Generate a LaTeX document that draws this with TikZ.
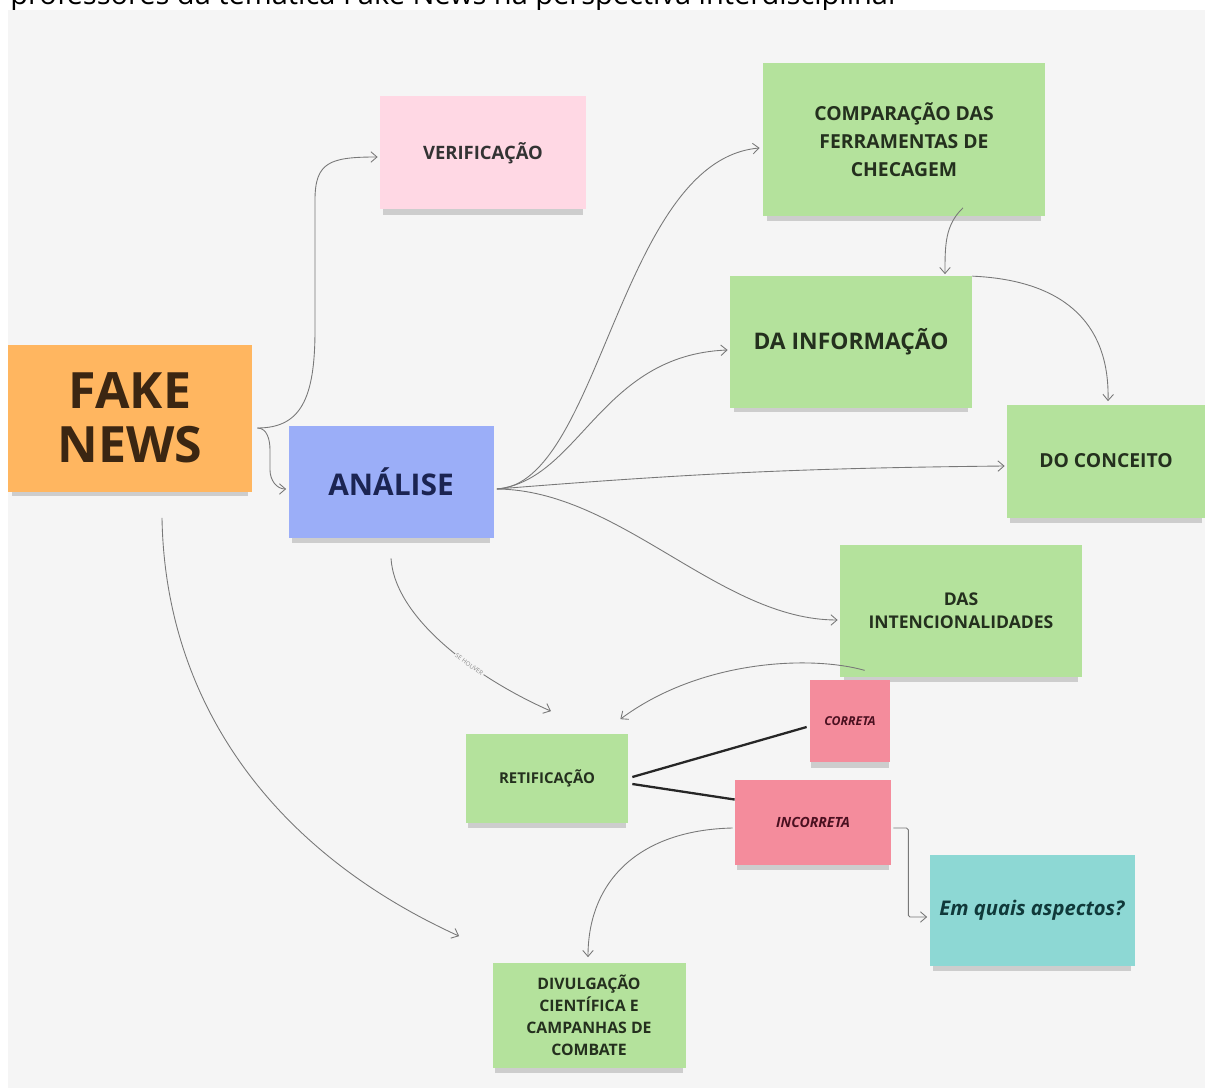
\documentclass[tikz,border=0pt]{standalone}
\usepackage{fontspec}
\setmainfont{Open Sans}
\usepackage{xcolor}
\definecolor{boardgray}{RGB}{245,245,245}
\definecolor{connline}{RGB}{120,120,120}
\definecolor{fakeorange}{RGB}{255,182,96}
\definecolor{verifpink}{RGB}{255,216,228}
\definecolor{analiseblue}{RGB}{155,174,248}
\definecolor{notegreen}{RGB}{180,226,156}
\definecolor{notered}{RGB}{244,140,156}
\definecolor{noteteal}{RGB}{141,216,212}
\definecolor{textdark}{RGB}{36,48,30}
\usetikzlibrary{arrows.meta, calc, shadows}

\begin{document}
\begin{tikzpicture}[x=0.02cm, y=-0.02cm,
    sticky/.style={rectangle, inner sep=0pt, align=center, font=\bfseries, text=textdark,
      drop shadow={shadow xshift=0pt, shadow yshift=-4pt, shadow scale=0.97, opacity=0.16, fill=black}},
    wh/.style 2 args={minimum width=#1*0.02cm, minimum height=#2*0.02cm},
    conn/.style={draw=connline, line width=0.5pt, -{Straight Barb[length=3.5pt,width=6pt]}},
    heavy/.style={draw=black!85, line width=1.3pt}]
  \fill[white] (0,0) rectangle (1205,1088);
  \useasboundingbox (0,0) rectangle (1205,1088);
  \node[anchor=base west, font=\fontsize{16.5}{19}\selectfont, inner sep=0pt] (title) at (10,5)
    {professores da temática Fake News na perspectiva interdisciplinar};
  \fill[boardgray] (8,10) rectangle (1205,1088);

  \node[sticky, wh={244}{147}, fill=fakeorange, text={rgb,255:red,59;green,38;blue,18},
    font=\bfseries\fontsize{28.5}{31}\selectfont] (fake) at (130,418) {FAKE\\NEWS};
  \node[sticky, wh={206}{113}, fill=verifpink, text=black!80,
    font=\bfseries\fontsize{10.5}{13}\selectfont] (verif) at (483,153) {VERIFICAÇÃO};
  \node[sticky, wh={205}{112}, fill=analiseblue, text={rgb,255:red,27;green,36;blue,82},
    font=\bfseries\fontsize{17}{21}\selectfont] (analise) at (391,482) {ANÁLISE};
  \node[sticky, wh={282}{153}, fill=notegreen,
    font=\bfseries\fontsize{11}{15.9}\selectfont] (comp) at (904,140) {COMPARAÇÃO DAS\\FERRAMENTAS DE\\CHECAGEM};
  \node[sticky, wh={242}{131}, fill=notegreen,
    font=\bfseries\fontsize{13}{16}\selectfont] (info) at (851,342) {DA INFORMAÇÃO};
  \node[sticky, wh={198}{113}, fill=notegreen,
    font=\bfseries\fontsize{11}{14}\selectfont] (conceito) at (1106,461) {DO CONCEITO};
  \node[sticky, wh={242}{132}, fill=notegreen,
    font=\bfseries\fontsize{10}{13}\selectfont] (intenc) at (961,611) {DAS\\INTENCIONALIDADES};
  \node[sticky, wh={80}{82}, fill=notered, text={rgb,255:red,74;green,16;blue,32},
    font=\bfseries\itshape\fontsize{7}{9}\selectfont] (correta) at (850,721) {CORRETA};
  \node[sticky, wh={162}{89}, fill=notegreen,
    font=\bfseries\fontsize{8.5}{11}\selectfont] (retif) at (547,778) {RETIFICAÇÃO};
  \node[sticky, wh={156}{85}, fill=notered, text={rgb,255:red,74;green,16;blue,32},
    font=\bfseries\itshape\fontsize{8}{10}\selectfont] (incorreta) at (813,822) {INCORRETA};
  \node[sticky, wh={205}{111}, fill=noteteal, text={rgb,255:red,16;green,57;blue,58},
    font=\bfseries\itshape\fontsize{11.5}{14}\selectfont] (aspectos) at (1032,910) {Em quais aspectos?};
  \node[sticky, wh={193}{105}, fill=notegreen,
    font=\bfseries\fontsize{9}{12.5}\selectfont] (divulg) at (589,1015) {DIVULGAÇÃO\\CIENTÍFICA E\\CAMPANHAS DE\\COMBATE};

  \coordinate (fk) at ($(fake.east)+(5,10)$);
  \draw[conn] (fk) .. controls (300,428) and (315,400) .. (315,330) -- (315,200)
    .. controls (315,162) and (330,157) .. ($(verif.west)+(-2,4)$);
  \draw[conn] (fk) to[out=0,in=90] (270,450) -- (270,470) to[out=-90,in=180] ($(analise.west)+(-2,7)$);
  \draw[conn] ($(analise.east)+(3,7)$) .. controls (600,485) and (620,160) .. ($(comp.west)+(-3,8)$);
  \draw[conn] ($(analise.east)+(3,7)$) .. controls (580,480) and (600,355) .. ($(info.west)+(-2,8)$);
  \draw[conn] ($(analise.east)+(3,7)$) to[bend left=2] ($(conceito.west)+(-2,5)$);
  \draw[conn] ($(analise.east)+(3,7)$) .. controls (620,490) and (720,620) .. ($(intenc.west)+(-2,9)$);
  \draw[conn] ($(comp.south)+(59,-9)$) .. controls (945,225) and (945,245) .. ($(info.north)+(94,-2)$);
  \draw[conn] (info.north east) .. controls (1060,280) and (1110,320) .. ($(conceito.north)+(2,-3)$);
  \draw[conn] ($(analise.south)+(0,20)$) .. controls (395,620) and (480,680)
    .. node[pos=0.62, sloped, fill=boardgray, inner sep=0.5pt, text=black!45,
      font=\fontsize{3.5}{4}\selectfont] {SE HOUVER} ($(retif.north)+(4,-22)$);
  \draw[conn] ($(intenc.south west)+(25,-7)$) .. controls (810,655) and (700,660) .. ($(retif.north east)+(-8,-14)$);
  \draw[heavy] ($(retif.east)+(4,-1)$) -- ($(correta.west)+(-3,6)$);
  \draw[heavy] ($(retif.east)+(4,6)$) -- (incorreta.164);
  \draw[conn, rounded corners=1pt] ($(incorreta.east)+(2,6)$) -- ++(15,0) |- ($(aspectos.west)+(-2,7)$);
  \draw[conn] ($(incorreta.west)+(-2,6)$) .. controls (640,830) and (588,880) .. ($(divulg.north)+(-1,-5)$);
  \draw[conn] ($(fake.south)+(32,26)$) .. controls (165,700) and (270,850) .. ($(divulg.north west)+(-33,-26)$);
\end{tikzpicture}
\end{document}
